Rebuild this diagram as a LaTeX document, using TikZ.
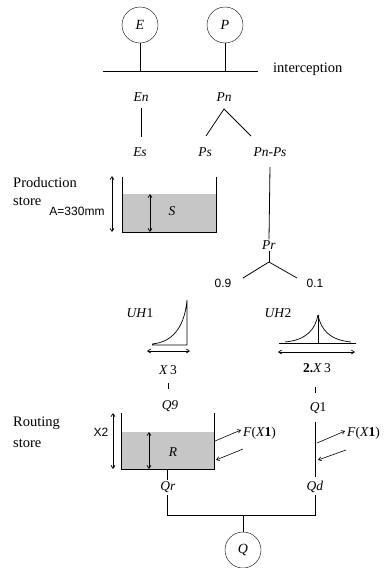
\documentclass[tikz,border=0pt]{standalone}
\usepackage{fontspec}
\setmainfont{Liberation Serif}
\newfontfamily\sansf{Liberation Sans}
\usetikzlibrary{arrows.meta}
\tikzset{
  lbl/.style={inner sep=1pt, font=\fontsize{13.5}{15}\selectfont},
  word/.style={inner sep=1pt, font=\fontsize{14.5}{16}\selectfont},
  sanslbl/.style={inner sep=1pt, font=\sansf\fontsize{12}{14}\selectfont},
  src/.style={draw, circle, minimum size=36pt, inner sep=0pt, font=\fontsize{14}{15}\selectfont\itshape},
  ln/.style={line width=0.8pt},
  dbl/.style={line width=0.7pt, {Straight Barb[length=3pt,width=4pt]}-{Straight Barb[length=3pt,width=4pt]}},
  sarr/.style={line width=0.6pt, -{Straight Barb[length=3pt,width=4pt]}},
  water/.style={fill=gray!45},
}
\begin{document}
\begin{tikzpicture}[x=1pt,y=-1pt]
\useasboundingbox (0,0) rectangle (384,568);
% sources
\node[src] (E) at (140,25) {E};
\node[src] (P) at (225,25) {P};
\coordinate (il) at (103,71);
\coordinate (ir) at (258,71);
\draw[ln] (il) -- (ir);
\draw[ln] (E.south) -- (E.south |- il);
\draw[ln] (P.south) -- (P.south |- il);
\node[word, anchor=west] (interc) at (272,69) {interception};
% net
\node[lbl] (En) at (141,97) {\textit{En}};
\node[lbl] (Pn) at (224,97) {\textit{Pn}};
\node[lbl] (Es) at (140,152) {\textit{Es}};
\node[lbl] (Ps) at (205,152) {\textit{Ps}};
\node[lbl] (PnPs) at (270,152) {\textit{Pn-Ps}};
\coordinate (ena) at (141,108);
\coordinate (enb) at (141,137);
\draw[ln] (ena) -- (enb);
\coordinate (pna) at (224,109);
\coordinate (pnl) at (206,136);
\coordinate (pnr) at (251,136);
\draw[ln] (pnl) -- (pna) -- (pnr);
% production store
\node[word, anchor=west] (prod) at (12,183) {Production};
\node[word, anchor=west] (pstore) at (12,201) {store};
\node[sanslbl] (A) at (77,211) {A=330mm};
\fill[water] (122,194) rectangle (216,232);
\draw[ln] (122,177) -- (122,232) -- (216,232) -- (216,177);
\draw[dbl] (112,176) -- (112,232);
\draw[dbl] (150,194) -- (150,232);
\node[lbl] (S) at (172,211) {\textit{S}};
% Pr
\coordinate (ppa) at (270,167);
\node[lbl] (Pr) at (269,245) {\textit{Pr}};
\draw[ln] (ppa) -- (Pr.north);
\coordinate (pra) at (269,262);
\coordinate (prl) at (243,278);
\coordinate (prr) at (297,278);
\draw[ln] (prl) -- (pra) -- (prr);
\draw[ln] (Pr.south) -- (pra);
\node[sanslbl] (n09) at (223,283) {0.9};
\node[sanslbl] (n01) at (315,283) {0.1};
% UH1
\node[lbl] (UH1) at (140,313) {\textit{UH}1};
\draw[line width=0.7pt] (152,344) .. controls (176,342) and (185,322) .. (187,300) -- (187,345) -- (152,345);
\draw[dbl] (147,351) -- (190,351);
\node[lbl] (X3) at (168,370) {\textit{X}\,3};
\coordinate (t1a) at (168,383);
\coordinate (t1b) at (168,389);
\draw[line width=0.6pt] (t1a) -- (t1b);
\node[lbl] (Q9) at (170,406) {\textit{Q9}};
% UH2
\node[lbl] (UH2) at (278,313) {\textit{UH}2};
\draw[line width=0.7pt] (279,343) -- (356,343);
\draw[line width=0.7pt] (318,315) -- (318,343);
\draw[line width=0.7pt] (285,342) .. controls (306,340) and (315,330) .. (318,315);
\draw[line width=0.7pt] (351,342) .. controls (330,340) and (321,330) .. (318,315);
\draw[dbl] (278,352) -- (355,352);
\node[lbl] (X32) at (317,368) {\textbf{2.}\textit{X}\,3};
\coordinate (t2a) at (315,387);
\coordinate (t2b) at (315,393);
\draw[line width=0.6pt] (t2a) -- (t2b);
\node[lbl] (Q1) at (318,408) {\textit{Q}1};
% routing store
\node[word, anchor=west] (rout) at (12,423) {Routing};
\node[word, anchor=west] (rstore) at (12,443) {store};
\node[sanslbl] (X2) at (101,432) {X2};
\fill[water] (121,432) rectangle (214,469);
\draw[ln] (121,413) -- (121,469) -- (214,469) -- (214,413);
\draw[dbl] (113,413) -- (113,469);
\draw[dbl] (149,432) -- (149,469);
\node[lbl] (R) at (173,452) {\textit{R}};
\node[lbl, anchor=west] (F1) at (242,433) {\textit{F}(\textit{X}\textbf{1})};
\draw[sarr] (215,441) -- (241,430);
\draw[sarr] (243,449) -- (216,460);
% direct branch
\coordinate (qda) at (315,422);
\coordinate (qdb) at (315,477);
\draw[ln] (qda) -- (qdb);
\node[lbl, anchor=west] (F2) at (346,433) {\textit{F}(\textit{X}\textbf{1})};
\draw[sarr] (317,443) -- (345,431);
\draw[sarr] (346,450) -- (318,460);
% outputs
\node[lbl] (Qr) at (168,487) {\textit{Qr}};
\node[lbl] (Qd) at (315,487) {\textit{Qd}};
\coordinate (rb) at (167,469);
\coordinate (rc) at (167,480);
\draw[ln] (rb) -- (rc);
\node[src] (Q) at (243,550) {Q};
\coordinate (jl) at (167,515);
\coordinate (jr) at (315,515);
\coordinate (jm) at (243,515);
\coordinate (qra) at (167,495);
\coordinate (qdc) at (315,495);
\draw[ln] (qra) -- (jl) -- (jr) -- (qdc);
\draw[ln] (jm) -- (Q.north);
\end{tikzpicture}
\end{document}
